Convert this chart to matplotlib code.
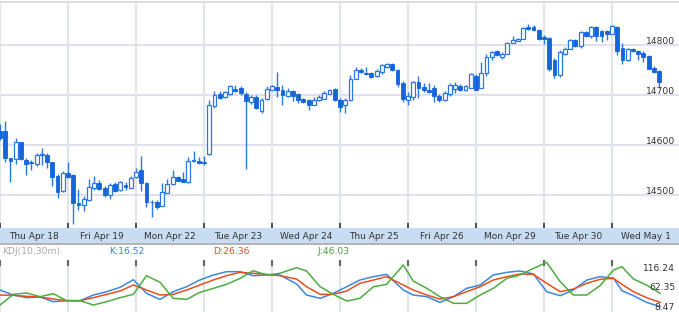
import matplotlib.pyplot as plt
import matplotlib.transforms as mtransforms

# 30-minute candles, Thu Apr 18 .. Wed May 1 (13 per day)
day_labels = ["Thu Apr 18", "Fri Apr 19", "Mon Apr 22", "Tue Apr 23", "Wed Apr 24",
              "Thu Apr 25", "Fri Apr 26", "Mon Apr 29", "Tue Apr 30", "Wed May 1"]
bars_per_day = 13

opens = [14628, 14628, 14574, 14572, 14606, 14571, 14566, 14563, 14580, 14581, 14566, 14538, 14508,
         14544, 14540, 14485, 14481, 14490, 14515, 14524, 14514, 14500, 14522, 14511, 14521, 14515,
         14536, 14551, 14524, 14487, 14487, 14479, 14505, 14522, 14536, 14533, 14527, 14568, 14568,
         14567, 14582, 14679, 14702, 14696, 14703, 14712, 14715, 14703, 14687, 14697, 14669, 14693,
         14711, 14717, 14711, 14699, 14708, 14702, 14693, 14690, 14681, 14690, 14693, 14703, 14712,
         14691, 14680, 14690, 14733, 14751, 14744, 14745, 14738, 14747, 14757, 14763, 14750, 14725,
         14691, 14697, 14727, 14717, 14711, 14715, 14698, 14691, 14703, 14713, 14718, 14710, 14715,
         14738, 14715, 14745, 14777, 14789, 14777, 14783, 14805, 14809, 14813, 14837, 14837, 14831,
         14817, 14815, 14771, 14740, 14782, 14793, 14811, 14798, 14827, 14818, 14837, 14829, 14829,
         14823, 14837, 14795, 14771, 14793, 14789, 14785, 14778, 14755, 14749]
highs = [14642, 14649, 14575, 14614, 14607, 14574, 14570, 14584, 14594, 14584, 14567, 14542, 14549,
         14566, 14542, 14513, 14498, 14533, 14538, 14530, 14518, 14524, 14527, 14529, 14527, 14538,
         14554, 14579, 14526, 14490, 14491, 14524, 14532, 14551, 14538, 14546, 14576, 14588, 14577,
         14578, 14690, 14709, 14708, 14709, 14720, 14720, 14718, 14706, 14700, 14700, 14694, 14718,
         14721, 14747, 14721, 14715, 14710, 14705, 14695, 14692, 14697, 14701, 14709, 14713, 14714,
         14694, 14694, 14740, 14757, 14755, 14757, 14746, 14753, 14762, 14765, 14765, 14752, 14728,
         14706, 14728, 14738, 14725, 14725, 14720, 14703, 14708, 14724, 14727, 14722, 14721, 14745,
         14742, 14767, 14782, 14789, 14790, 14786, 14807, 14818, 14814, 14836, 14843, 14840, 14832,
         14820, 14816, 14775, 14790, 14797, 14813, 14813, 14828, 14828, 14838, 14838, 14831, 14830,
         14840, 14838, 14805, 14794, 14795, 14791, 14789, 14780, 14758, 14751]
lows = [14610, 14566, 14527, 14562, 14570, 14540, 14550, 14558, 14560, 14554, 14518, 14494, 14506,
        14534, 14442, 14470, 14469, 14488, 14510, 14510, 14496, 14492, 14507, 14508, 14510, 14514,
        14535, 14508, 14477, 14457, 14472, 14478, 14504, 14520, 14528, 14526, 14525, 14566, 14563,
        14561, 14580, 14675, 14692, 14694, 14700, 14706, 14700, 14553, 14683, 14672, 14665, 14691,
        14710, 14697, 14681, 14696, 14688, 14685, 14684, 14671, 14680, 14688, 14692, 14702, 14688,
        14667, 14665, 14688, 14732, 14745, 14740, 14734, 14736, 14742, 14755, 14748, 14717, 14687,
        14681, 14690, 14694, 14706, 14704, 14687, 14687, 14689, 14698, 14705, 14709, 14709, 14714,
        14711, 14714, 14738, 14771, 14778, 14773, 14782, 14804, 14808, 14812, 14831, 14829, 14810,
        14803, 14748, 14735, 14736, 14780, 14792, 14797, 14795, 14817, 14815, 14809, 14807, 14811,
        14822, 14780, 14762, 14769, 14787, 14771, 14767, 14752, 14745, 14715]
closes = [14614, 14575, 14569, 14606, 14572, 14562, 14564, 14580, 14582, 14566, 14537, 14507, 14544,
          14536, 14485, 14481, 14492, 14517, 14524, 14512, 14500, 14521, 14509, 14526, 14516, 14535,
          14546, 14525, 14487, 14486, 14477, 14507, 14522, 14536, 14529, 14527, 14569, 14569, 14564,
          14565, 14680, 14701, 14695, 14707, 14718, 14709, 14705, 14689, 14697, 14675, 14691, 14713,
          14719, 14710, 14700, 14709, 14699, 14690, 14687, 14680, 14691, 14697, 14705, 14711, 14690,
          14677, 14690, 14733, 14751, 14747, 14742, 14737, 14749, 14760, 14762, 14750, 14723, 14693,
          14698, 14726, 14715, 14710, 14707, 14698, 14691, 14705, 14720, 14720, 14711, 14718, 14742,
          14711, 14745, 14777, 14787, 14780, 14783, 14805, 14811, 14813, 14835, 14832, 14830, 14813,
          14813, 14753, 14740, 14787, 14793, 14811, 14798, 14827, 14818, 14837, 14818, 14818, 14822,
          14838, 14789, 14771, 14792, 14789, 14783, 14777, 14753, 14747, 14727]
price_ticks = [14500, 14600, 14700, 14800]

# KDJ(10, 30m), positions in candle units
kdj_pos = [0, 2.55, 5.1, 7.65, 10.2, 12.75, 15.3, 17.85, 20.4, 22.95, 25.5, 28.0, 30.6,
           33.1, 35.7, 38.2, 40.8, 43.3, 45.9, 48.4, 51.0, 53.5, 56.7, 58.6, 61.2, 63.7,
           66.3, 68.8, 71.4, 73.9, 77.1, 79.0, 81.6, 84.1, 86.7, 89.2, 91.8, 94.3, 96.9,
           99.4, 102.0, 104.5, 107.1, 109.6, 112.2, 114.7, 117.3, 118.9, 121.1, 123.6, 126.2]
k_vals = [50.6, 38.9, 32.7, 34.2, 23.3, 25.6, 25.6, 38.9, 46.7, 56.9, 74.8, 42.8, 28.7,
          46.7, 58.4, 74.1, 85.8, 93.6, 93.6, 84.2, 85.8, 85.8, 64.7, 38.9, 31.1, 42.8,
          58.4, 74.0, 81.9, 87.3, 50.6, 38.9, 35.0, 21.7, 35.0, 54.5, 62.3, 85.8, 92.0,
          95.2, 88.1, 46.7, 37.3, 50.6, 74.0, 81.9, 78.0, 49.1, 37.3, 21.7, 11.6]
d_vals = [38.9, 38.1, 35.8, 34.2, 29.5, 25.6, 25.6, 32.7, 40.5, 48.3, 62.4, 50.6, 38.9,
          40.5, 50.6, 62.4, 74.1, 84.2, 92.0, 89.7, 87.3, 84.2, 76.4, 58.4, 40.5, 40.5,
          48.3, 66.3, 74.0, 81.9, 62.3, 50.6, 38.9, 29.5, 35.0, 46.7, 58.4, 74.0, 81.9,
          88.1, 87.3, 66.3, 46.7, 52.9, 66.3, 75.6, 78.0, 63.9, 46.7, 32.7, 21.7]
j_vals = [15.5, 40.5, 43.6, 35.0, 42.0, 25.6, 25.6, 15.5, 23.3, 32.7, 40.5, 84.2, 68.6,
          31.1, 28.7, 45.2, 54.5, 63.9, 77.9, 95.9, 85.8, 89.7, 102.9, 95.1, 58.4, 40.5,
          24.8, 31.1, 58.4, 63.9, 109.2, 71.7, 54.5, 35.0, 19.4, 19.4, 38.9, 54.5, 78.0,
          85.8, 101.4, 115.4, 70.1, 38.9, 38.9, 60.8, 97.5, 105.3, 76.4, 62.3, 42.8]
kdj_scale = ["116.24", "62.35", "8.47"]
kdj_header = [("KDJ(10,30m)", "#a8a8a8"), ("K:16.52", "#3a82da"),
              ("D:26.36", "#e0552a"), ("J:46.03", "#45a338")]

W, H = 679, 312
fig = plt.figure(figsize=(W / 100, H / 100), dpi=100)


def rect(x0, y0, x1, y1):
    return [x0 / W, 1 - y1 / H, (x1 - x0) / W, (y1 - y0) / H]


n = len(opens)
xmax = W / (68 / bars_per_day)
bounds = list(range(0, n, bars_per_day))
grid_v = "#e2e5e6"
blue_fill, blue_edge = "#1464dc", "#2a78e4"

# --- price panel ---
ax = fig.add_axes(rect(0, 2, W, 228))
ax.set_xlim(0, xmax)
ax.set_ylim(14434, 14886)
for p in price_ticks:
    ax.axhline(p, color="#e0e0ef", lw=1.5, zorder=0)
for b in bounds:
    ax.axvline(b, color=grid_v, lw=1.6, zorder=0)
    ax.axvline(b, ymin=0, ymax=4 / 226, color="#555555", lw=1.5, zorder=1)

xs = list(range(n))
ax.vlines(xs, lows, highs, color=blue_edge, lw=1.0, zorder=2)
for i in xs:
    o, c = opens[i], closes[i]
    h = c - o
    if abs(h) < 1.5:
        h = 1.5 if h >= 0 else -1.5
    if c >= o:
        ax.bar(i, h, bottom=o, width=0.74, facecolor="white", edgecolor=blue_edge,
               lw=0.9, zorder=3)
    else:
        ax.bar(i, h, bottom=o, width=0.74, facecolor=blue_fill, edgecolor=blue_fill,
               lw=0.6, zorder=3)

lab_tr = mtransforms.blended_transform_factory(ax.transAxes, ax.transData)
for p in price_ticks:
    ax.text(1 - 4 / W, p + 1, str(p), transform=lab_tr, ha="right", va="baseline",
            fontsize=6.6, color="#333333", zorder=5)
for s in ["left", "right", "bottom"]:
    ax.spines[s].set_visible(False)
ax.spines["top"].set_color("#d8d8d8")
ax.spines["top"].set_linewidth(1.2)
ax.set_xticks([])
ax.set_yticks([])

# --- date bar ---
axd = fig.add_axes(rect(0, 228, W, 243))
axd.set_facecolor("#c8dcf2")
axd.set_xlim(0, xmax)
axd.set_ylim(0, 1)
for d, lab in enumerate(day_labels):
    axd.text(d * bars_per_day + bars_per_day / 2, 0.45, lab, ha="center", va="center",
             fontsize=6.5, color="#333333")
axd.set_xticks([])
axd.set_yticks([])
for s in axd.spines.values():
    s.set_visible(False)

sep = fig.add_axes(rect(0, 243, W, 245))
sep.set_facecolor("#b4b4b4")
sep.set_xticks([])
sep.set_yticks([])
for s in sep.spines.values():
    s.set_visible(False)

# --- KDJ header ---
for (txt, col), x0 in zip(kdj_header, [2, 109, 213, 318]):
    fig.text(x0 / W, 1 - 252 / H, txt, color=col, fontsize=6.7, ha="left", va="center")

# --- KDJ panel ---
axk = fig.add_axes(rect(0, 259, W, 312))
axk.set_xlim(0, xmax)
axk.set_ylim(-0.91, 123.27)
for b in bounds:
    axk.axvline(b, ymin=0, ymax=1 - 2 / 53, color=grid_v, lw=1.6, zorder=0)
    axk.axvline(b, ymin=1 - 6 / 53, ymax=1 - 2 / 53, color="#666666", lw=1.5, zorder=1)
axk.plot(kdj_pos, k_vals, color="#3d86de", lw=1.1, zorder=3)
axk.plot(kdj_pos, d_vals, color="#e5501e", lw=1.1, zorder=3)
axk.plot(kdj_pos, j_vals, color="#4cae3e", lw=1.1, zorder=3)
for s in axk.spines.values():
    s.set_visible(False)
axk.set_xticks([])
axk.set_yticks([])

for txt, ypx in zip(kdj_scale, [268.3, 288, 308]):
    fig.text(675 / W, 1 - ypx / H, txt, color="#333333", fontsize=6.6, ha="right",
             va="center")

fig.savefig("out.png", dpi=100)
